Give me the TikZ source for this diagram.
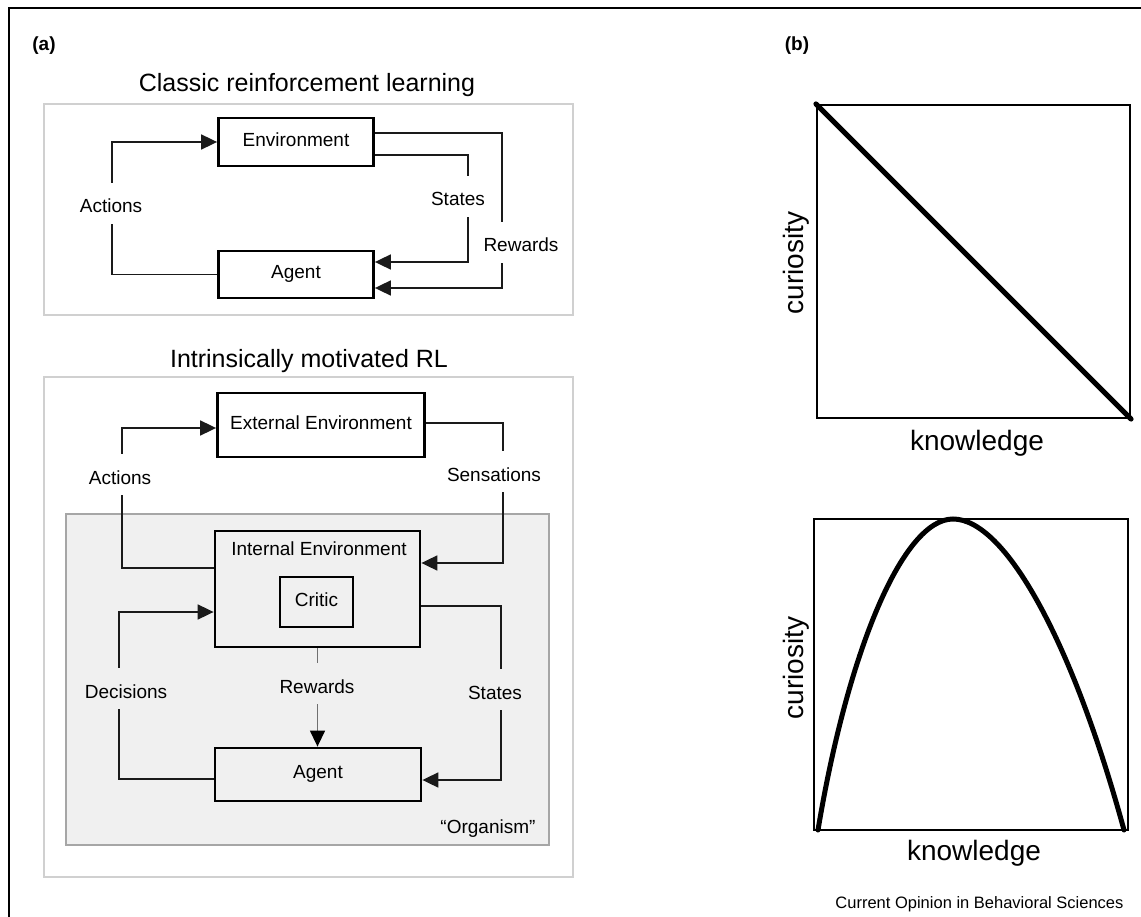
\documentclass[tikz,border=0pt]{standalone}
\usepackage{fontspec}
\setmainfont{Liberation Sans}
\usetikzlibrary{arrows.meta,calc}
\definecolor{outergray}{HTML}{D0D0D0}
\definecolor{shadefill}{HTML}{F0F0F0}
\definecolor{shadeline}{HTML}{A6A6A6}
\definecolor{linedark}{HTML}{1A1A1A}
\definecolor{rewgray}{HTML}{707070}
\newcommand{\mylabfont}{\fontsize{19}{22}\selectfont}
\newcommand{\mytitlefont}{\fontsize{25}{29}\selectfont}
\newcommand{\myaxfont}{\fontsize{28}{32}\selectfont}
\newcommand{\mypanelfont}{\fontsize{19}{22}\selectfont\bfseries}
\newcommand{\myfootfont}{\fontsize{16.5}{19}\selectfont}
\begin{document}
\begin{tikzpicture}[x=1pt,y=-1pt,
  box/.style={draw=black, line width=2.8pt, inner sep=0pt, text height=13.6pt, text depth=5pt, font=\mylabfont},
  conn/.style={draw=linedark, line width=1.8pt},
  arr/.style={conn, -{Triangle[length=16pt,width=15pt]}},
  lab/.style={font=\mylabfont, fill=white, inner xsep=2pt, inner ysep=0pt, text height=30pt, text depth=11pt, anchor=base},
  glab/.style={lab, fill=shadefill},
  ttl/.style={font=\mytitlefont, anchor=base},
  outerbox/.style={draw=outergray, line width=2.2pt},
  plotbox/.style={draw=black, line width=2.2pt, inner sep=0pt},
  curve/.style={draw=black, line width=5pt, line cap=round},
  axlab/.style={font=\myaxfont, anchor=base}
]
\useasboundingbox (0,0) rectangle (1141,917);
% outer frame
\draw[line width=2pt] (9,917) -- (9,8) -- (1141,8);
\node[font=\mypanelfont, anchor=base] (pa) at (44,51) {(a)};
\node[font=\mypanelfont, anchor=base] (pb) at (797,51) {(b)};

% ---------- Classic RL ----------
\node[ttl] (t1) at (307,92) {Classic reinforcement learning};
\draw[outerbox] (44,104) rectangle (573,315);
\node[box, minimum width=155pt, minimum height=48pt] (env) at (296,142) {Environment};
\node[box, minimum width=155pt, minimum height=47pt] (ag) at (296,274.5) {Agent};
\coordinate (uA) at (112,200);
\coordinate (uS) at (468,200);
\coordinate (uR) at (502,240);
\draw[arr] (ag.west) -| (uA) |- (env.west);
\draw[arr] ([yshift=-13pt]env.east) -| (uS) |- ([yshift=12.5pt]ag.east);
\draw[arr] ([yshift=9pt]env.east) -| (uR) |- ([yshift=-13.5pt]ag.east);
\node[lab] (lua) at (111,213) {Actions};
\node[lab] (lus) at (458,206) {States};
\node[lab] (lur) at (521,252) {Rewards};

% ---------- Intrinsically motivated RL ----------
\node[ttl] (t2) at (309,367) {Intrinsically motivated RL};
\draw[outerbox] (44,377) rectangle (573,877);
\draw[draw=shadeline, fill=shadefill, line width=1.6pt] (66,514) rectangle (549,845);
\node[box, minimum width=207pt, minimum height=64pt] (eenv) at (321,425) {External Environment};
\node[box, minimum width=205pt, minimum height=116pt] (ienv) at (317.5,589) {};
\node[font=\mylabfont, anchor=base] (ienvt) at (319,555) {Internal Environment};
\node[box, minimum width=73pt, minimum height=50pt] (critic) at (316.5,602) {Critic};
\node[box, minimum width=206pt, minimum height=53pt] (lag) at (318,774.5) {Agent};
\coordinate (lA) at (122,480);
\coordinate (lS) at (503,480);
\coordinate (lD) at (119,690);
\coordinate (lSt) at (501,690);
\draw[arr] ([yshift=21pt]ienv.west) -| (lA) |- ([yshift=-3pt]eenv.west);
\draw[arr] ([yshift=2pt]eenv.east) -| (lS) |- ([yshift=26pt]ienv.east);
\draw[arr] ([yshift=-4.5pt]lag.west) -| (lD) |- ([yshift=-23pt]ienv.west);
\draw[arr] ([yshift=-17pt]ienv.east) -| (lSt) |- ([yshift=-5.5pt]lag.east);
\draw[draw=rewgray, line width=1.4pt, -{Triangle[length=16pt,width=15pt,color=black]}] (ienv.south) -- (ienv.south |- lag.north);
\node[lab] (lla) at (120,484) {Actions};
\node[lab] (lls) at (494,481) {Sensations};
\node[glab] (lld) at (126,698) {Decisions};
\node[glab] (llr) at (317,693) {Rewards};
\node[glab] (llst) at (495,699) {States};
\node[font=\mylabfont, anchor=base] (org) at (488,833) {“Organism”};

% ---------- Panel (b) ----------
\node[plotbox, minimum width=313pt, minimum height=313pt] (p1) at (973.5,261.5) {};
\draw[curve] (p1.north west) -- (p1.south east);
\node[axlab, rotate=90] (cy1) at (803,263) {curiosity};
\node[axlab] (kx1) at (977,450) {knowledge};

\node[plotbox, minimum width=314pt, minimum height=311pt] (p2) at (971,674.5) {};
\draw[curve] (818,830) .. controls (848,650) and (903,519) .. (953,519) .. controls (1005,519) and (1072,640) .. (1124,830);
\node[axlab, rotate=90] (cy2) at (803,668) {curiosity};
\node[axlab] (kx2) at (974,860) {knowledge};

\node[font=\myfootfont, anchor=base east] (foot) at (1127,908) {Current Opinion in Behavioral Sciences};
\end{tikzpicture}
\end{document}
